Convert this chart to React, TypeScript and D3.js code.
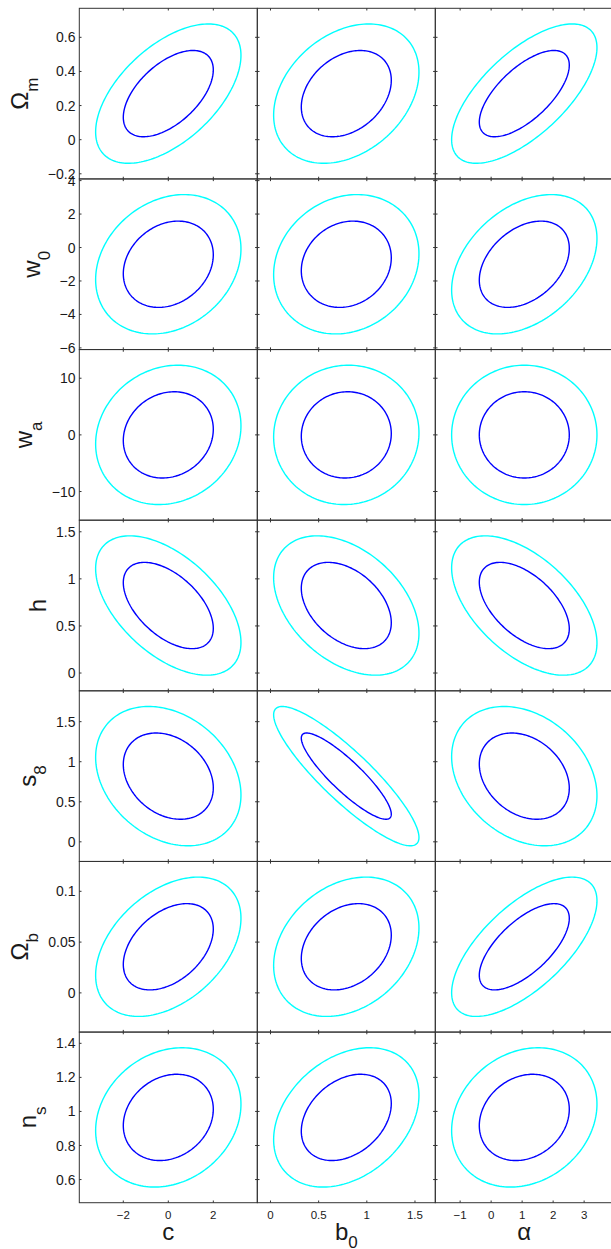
import * as d3 from "d3";

// column (x) parameters
const xNames = ["c", "b0", "alpha"];
const xCenters = [0, 0.787, 1.07];
const xSigmas = [1.318, 0.308, 0.957];
const xTicks = [
  [-2, 0, 2],
  [0, 0.5, 1, 1.5],
  [-1, 0, 1, 2, 3],
];

// row (y) parameters
const yNames = ["Om", "w0", "wa", "h", "s8", "Ob", "ns"];
const yCenters = [0.27, -1.0, 0, 0.717, 0.82, 0.0454, 0.965];
const ySigmas = [0.1667, 1.7, 5.02, 0.302, 0.355, 0.028, 0.167];
const yTicks = [
  [-0.2, 0, 0.2, 0.4, 0.6],
  [-6, -4, -2, 0, 2, 4],
  [-10, 0, 10],
  [0, 0.5, 1, 1.5],
  [0, 0.5, 1, 1.5],
  [0, 0.05, 0.1],
  [0.6, 0.8, 1, 1.2, 1.4],
];

// correlation coefficient for each (row, column) pair
const correlations = [
  [0.55, 0.31, 0.66],
  [0.22, 0.15, 0.37],
  [0.13, 0.03, 0.0],
  [-0.53, -0.4, -0.54],
  [-0.27, -0.88, -0.28],
  [0.41, 0.27, 0.66],
  [0.19, 0.32, 0.19],
];

// delta chi^2 of the two contours
const levels = [2.3, 6.0];
const levelColors = ["#0000ff", "#00ffff"];

const labelMain: Record<string, string> = {
  c: "c", b0: "b", alpha: "α",
  Om: "Ω", w0: "w", wa: "w", h: "h", s8: "s", Ob: "Ω", ns: "n",
};
const labelSub: Record<string, string> = {
  b0: "0", Om: "m", w0: "0", wa: "a", s8: "8", Ob: "b", ns: "s",
};

const FONT = "'Liberation Sans', Arial, Helvetica, sans-serif";
const LEFT = 79.3;
const TOP = 8.3;
const PW = 178;
const PH = 170.63;
const TICK = 2.2;

const fmt = (v: number) => String(v).replace("-", "\u2212");

// rough width of a tick label (Arial metrics)
function textWidth(s: string, size: number) {
  let w = 0;
  for (const ch of s) {
    if (ch === ".") w += 0.278;
    else if (ch === "\u2212") w += 0.584;
    else w += 0.556;
  }
  return w * size;
}

function ellipsePath(
  x: d3.ScaleLinear<number, number>,
  y: d3.ScaleLinear<number, number>,
  mx: number, my: number, sx: number, sy: number, rho: number, dchi: number
) {
  const k = Math.sqrt(dchi);
  const pts: [number, number][] = d3.range(0, 360, 2).map((deg) => {
    const t = (deg * Math.PI) / 180;
    const px = mx + k * sx * Math.cos(t);
    const py = my + k * sy * (rho * Math.cos(t) + Math.sqrt(1 - rho * rho) * Math.sin(t));
    return [x(px), y(py)];
  });
  return d3.line().curve(d3.curveLinearClosed)(pts) || "";
}

export default function App() {
  const width = 611;
  const height = 1249;
  const panels: JSX.Element[] = [];
  const yLabelSize = 14;

  yNames.forEach((yn, i) => {
    const top = TOP + i * PH;
    const y = d3.scaleLinear()
      .domain([yCenters[i] - 3 * ySigmas[i], yCenters[i] + 3 * ySigmas[i]])
      .range([top + PH, top]);
    xNames.forEach((xn, j) => {
      const left = LEFT + j * PW;
      const x = d3.scaleLinear()
        .domain([xCenters[j] - 3 * xSigmas[j], xCenters[j] + 3 * xSigmas[j]])
        .range([left, left + PW]);
      panels.push(
        <g key={`${i}-${j}`}>
          {levels.map((lv, l) => (
            <path key={l}
              d={ellipsePath(x, y, xCenters[j], yCenters[i], xSigmas[j], ySigmas[i], correlations[i][j], lv)}
              fill="none" stroke={levelColors[l]} strokeWidth={1.4} />
          ))}
          <rect x={left} y={top} width={PW} height={PH} fill="none" stroke="#333" strokeWidth={1} />
          {yTicks[i].map((t) => (
            <g key={`yt${t}`} stroke="#333" strokeWidth={1}>
              <line x1={left} x2={left + TICK} y1={y(t)} y2={y(t)} />
              <line x1={left + PW} x2={left + PW - TICK} y1={y(t)} y2={y(t)} />
            </g>
          ))}
          {xTicks[j].map((t) => (
            <g key={`xt${t}`} stroke="#333" strokeWidth={1}>
              <line x1={x(t)} x2={x(t)} y1={top + PH} y2={top + PH - TICK} />
              <line x1={x(t)} x2={x(t)} y1={top} y2={top + TICK} />
            </g>
          ))}
        </g>
      );
    });

    // y tick labels and title (first column only)
    const labelRight = LEFT - 3.8;
    const widest = d3.max(yTicks[i], (t) => textWidth(fmt(t), yLabelSize)) || 0;
    const hasSub = labelSub[yn] !== undefined;
    const subShift = 10;
    const baseX = labelRight - widest - 10 - (hasSub ? subShift : 0);
    panels.push(
      <g key={`ylab${i}`} fontFamily={FONT} fill="#1a1a1a">
        {yTicks[i].map((t) => (
          <text key={t} x={labelRight} y={y(t)} dy="0.36em" textAnchor="end" fontSize={yLabelSize}>
            {fmt(t)}
          </text>
        ))}
        <text transform={`translate(${baseX},${top + PH / 2}) rotate(-90)`} textAnchor="middle" fontSize={24}>
          {labelMain[yn]}
          {hasSub && <tspan dy={subShift} fontSize={17}>{labelSub[yn]}</tspan>}
        </text>
      </g>
    );
  });

  // x tick labels and titles (bottom row)
  const bottom = TOP + 7 * PH;
  xNames.forEach((xn, j) => {
    const left = LEFT + j * PW;
    const x = d3.scaleLinear()
      .domain([xCenters[j] - 3 * xSigmas[j], xCenters[j] + 3 * xSigmas[j]])
      .range([left, left + PW]);
    const hasSub = labelSub[xn] !== undefined;
    panels.push(
      <g key={`xlab${j}`} fontFamily={FONT} fill="#1a1a1a">
        {xTicks[j].map((t) => (
          <text key={t} x={x(t)} y={bottom + 16.5} textAnchor="middle" fontSize={11.5}>
            {fmt(t)}
          </text>
        ))}
        <text x={left + PW / 2} y={bottom + 37.5} textAnchor="middle" fontSize={24}>
          {labelMain[xn]}
          {hasSub && <tspan dy={7.5} fontSize={17}>{labelSub[xn]}</tspan>}
        </text>
      </g>
    );
  });

  return (
    <svg width={width} height={height} style={{ position: "absolute", left: 0, top: 0, background: "#fff" }}>
      {panels}
    </svg>
  );
}
